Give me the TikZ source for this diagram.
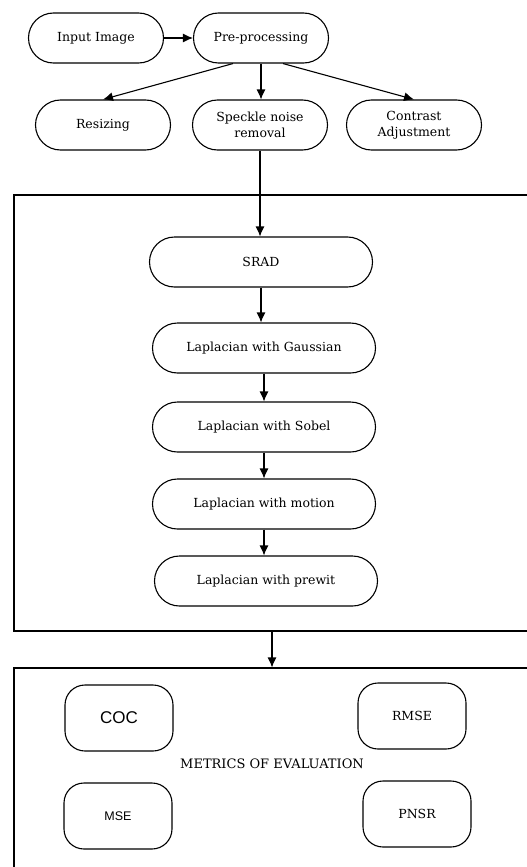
\documentclass[tikz,border=0pt]{standalone}
\usepackage{fontspec}
\setmainfont{DejaVu Serif}
\newfontfamily\metricsans{Liberation Sans}
\usetikzlibrary{positioning}
\usetikzlibrary{arrows.meta}

\begin{document}
\begin{tikzpicture}[x=1pt,y=-1pt,line width=1.1pt,>={Latex[length=10pt,width=9pt]},
  block/.style={draw,rounded corners=25pt,minimum width=135pt,minimum height=50pt,align=center,font=\fontsize{12.5}{15.5}\selectfont},
  filter/.style={block,minimum width=223pt},
  metric/.style={draw,rounded corners=20pt,minimum width=108pt,minimum height=66pt,font=\fontsize{12.5}{15}\selectfont},
  frame/.style={draw,minimum width=546pt}]
\clip (0,0) rectangle (527,867);
\node[block] (input) at (96,38) {Input Image};
\node[block] (pre) at (261,38) {Pre-processing};
\node[block] (resize) at (103,125) {Resizing};
\node[block] (speckle) at (260,125) {Speckle noise\\removal};
\node[block] (contrast) at (414,125) {Contrast\\Adjustment};
\node[frame,minimum height=436pt] (proc) at (287,413) {};
\node[filter] (srad) at (261,262) {SRAD};
\node[filter] (gauss) at (264,348) {Laplacian with Gaussian};
\node[filter] (sobel) at (264,427) {Laplacian with Sobel};
\node[filter] (motion) at (264,504) {Laplacian with motion};
\node[filter] (prewit) at (266,581) {Laplacian with prewit};
\node[frame,minimum height=252pt] (evalbox) at (287,794) {};
\node[font=\fontsize{13}{15}\selectfont] (evaltext) at (272,764) {METRICS OF EVALUATION};
\node[metric,font=\metricsans\fontsize{17}{19}\selectfont] (coc) at (119,718) {COC};
\node[metric] (rmse) at (412,716) {RMSE};
\node[metric,font=\metricsans\fontsize{12.5}{15}\selectfont] (mse) at (118,816) {MSE};
\node[metric] (pnsr) at (417,814) {PNSR};
\path[->]
    (input) edge (pre)
    ([xshift=-28pt]pre.south) edge (resize.north)
    (pre) edge (pre.south |- speckle.north)
    ([xshift=22pt]pre.south) edge (contrast.north)
    (speckle) edge (speckle.south |- srad.north)
    (srad) edge (srad.south |- gauss.north)
    (gauss) edge (gauss.south |- sobel.north)
    (sobel) edge (sobel.south |- motion.north)
    (motion) edge (motion.south |- prewit.north)
    (proc.south -| evaltext) edge (evalbox.north -| evaltext)
;
\end{tikzpicture}
\end{document}
